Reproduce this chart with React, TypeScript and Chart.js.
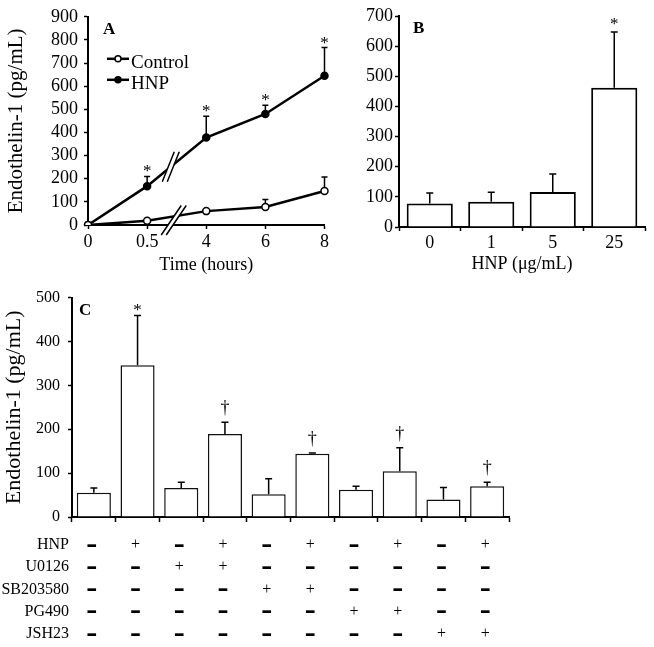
import React, { useEffect, useRef } from 'react';
import { Chart, registerables } from 'chart.js';

Chart.register(...registerables);

const SERIF = "'Liberation Serif', 'Times New Roman', Times, serif";

// ---------- Panel A (time course) ----------
const timeLabels = ['0', '0.5', '4', '6', '8'];
const controlMeans = [0, 18, 60, 78, 147];
const controlErrors = [0, 0, 0, 32, 60];
const controlMarks = ['', '', '', '', ''];
const hnpMeans = [0, 168, 378, 480, 645];
const hnpErrors = [0, 42, 92, 38, 122];
const hnpMarks = ['', '*', '*', '*', '*'];

// ---------- Panel B (dose response) ----------
const doseLabels = ['0', '1', '5', '25'];
const doseMeans = [78, 84, 116, 462];
const doseErrors = [35, 31, 60, 185];
const doseMarks = ['', '', '', '*'];

// ---------- Panel C (inhibitors) ----------
const groupLabels = ['G1', 'G2', 'G3', 'G4', 'G5', 'G6', 'G7', 'G8', 'G9', 'G10'];
const groupMeans = [55, 346, 66, 189, 52, 144, 62, 104, 40, 70];
const groupErrors = [11, 113, 13, 27, 35, 2, 8, 54, 27, 9];
const groupMarks = ['', '*', '', '†', '', '†', '', '†', '', '†'];
const treatmentNames = ['HNP', 'U0126', 'SB203580', 'PG490', 'JSH23'];
const hnpSigns = ['-', '+', '-', '+', '-', '+', '-', '+', '-', '+'];
const u0126Signs = ['-', '-', '+', '+', '-', '-', '-', '-', '-', '-'];
const sb203580Signs = ['-', '-', '-', '-', '+', '+', '-', '-', '-', '-'];
const pg490Signs = ['-', '-', '-', '-', '-', '-', '+', '+', '-', '-'];
const jsh23Signs = ['-', '-', '-', '-', '-', '-', '-', '-', '+', '+'];
const treatmentSigns = [hnpSigns, u0126Signs, sb203580Signs, pg490Signs, jsh23Signs];

const font = (size: number, weight: string = 'normal') => ({ family: SERIF, size, weight });
const axisGrid = (tickLength: number, offset?: boolean) => ({
  display: true,
  drawOnChartArea: false,
  drawTicks: true,
  tickLength,
  tickColor: '#000',
  tickWidth: 1.5,
  color: '#000',
  ...(offset === undefined ? {} : { offset }),
});
const axisBorder = { display: true, color: '#000', width: 2 };

type ErrSpec = {
  dataset: number;
  errors: number[];
  marks: string[];
  cap: number;
  width: number;
  start: number;
  markFont: (m: string) => string;
  markGap: (m: string) => number;
};

function errorBars(id: string, specs: ErrSpec[]) {
  return {
    id,
    afterDatasetsDraw(chart: any) {
      const { ctx } = chart;
      const ys = chart.scales.y;
      specs.forEach((s) => {
        const meta = chart.getDatasetMeta(s.dataset);
        const vals = chart.data.datasets[s.dataset].data as number[];
        meta.data.forEach((el: any, i: number) => {
          const v = vals[i];
          const e = s.errors[i] || 0;
          const x = el.x;
          const y0 = ys.getPixelForValue(v) - s.start;
          const y1 = ys.getPixelForValue(v + e);
          ctx.save();
          ctx.strokeStyle = '#000';
          ctx.lineWidth = s.width;
          if (e > 0) {
            ctx.beginPath();
            ctx.moveTo(x, y0);
            ctx.lineTo(x, y1);
            ctx.moveTo(x - s.cap, y1);
            ctx.lineTo(x + s.cap, y1);
            ctx.stroke();
          }
          const m = s.marks[i];
          if (m) {
            ctx.fillStyle = '#000';
            ctx.font = s.markFont(m);
            ctx.textAlign = 'center';
            ctx.textBaseline = 'alphabetic';
            ctx.fillText(m, x, y1 - s.markGap(m));
          }
          ctx.restore();
        });
      });
    },
  };
}

const panelLetter = (letter: string, dx: number, dy: number) => ({
  id: 'letter' + letter,
  afterDraw(chart: any) {
    const { ctx, chartArea } = chart;
    ctx.save();
    ctx.fillStyle = '#000';
    ctx.font = `bold 17px ${SERIF}`;
    ctx.textAlign = 'left';
    ctx.textBaseline = 'middle';
    ctx.fillText(letter, chartArea.left + dx, chartArea.top + dy);
    ctx.restore();
  },
});

const legendA = {
  id: 'legendA',
  afterDraw(chart: any) {
    const { ctx, chartArea } = chart;
    chart.data.datasets.forEach((ds: any, i: number) => {
      const ty = chartArea.top + 46 + i * 21;
      const ly = ty - 4;
      const x0 = chartArea.left + 19;
      ctx.save();
      ctx.strokeStyle = '#000';
      ctx.lineWidth = 2.5;
      ctx.beginPath();
      ctx.moveTo(x0, ly);
      ctx.lineTo(x0 + 22, ly);
      ctx.stroke();
      ctx.beginPath();
      ctx.arc(x0 + 11, ly, 3, 0, Math.PI * 2);
      ctx.fillStyle = ds.pointBackgroundColor;
      ctx.fill();
      ctx.lineWidth = 1.5;
      ctx.stroke();
      ctx.fillStyle = '#000';
      ctx.font = `19px ${SERIF}`;
      ctx.textAlign = 'left';
      ctx.textBaseline = 'middle';
      ctx.fillText(ds.label, x0 + 24, ty);
      ctx.restore();
    });
  },
};

const breakA = {
  id: 'breakA',
  afterDatasetsDraw(chart: any) {
    const { ctx } = chart;
    const xs = chart.scales.x;
    const ys = chart.scales.y;
    const xa = xs.getPixelForValue(1);
    const xb = xs.getPixelForValue(2);
    const yAxis = ys.getPixelForValue(0);
    const slashPair = (cx: number, top: number, bottom: number, lean: number) => {
      const gap = 2.5;
      ctx.save();
      ctx.fillStyle = '#fff';
      ctx.beginPath();
      ctx.moveTo(cx - gap - lean, bottom);
      ctx.lineTo(cx - gap + lean, top);
      ctx.lineTo(cx + gap + lean, top);
      ctx.lineTo(cx + gap - lean, bottom);
      ctx.closePath();
      ctx.fill();
      ctx.strokeStyle = '#000';
      ctx.lineWidth = 1.5;
      ctx.beginPath();
      ctx.moveTo(cx - gap - lean, bottom);
      ctx.lineTo(cx - gap + lean, top);
      ctx.moveTo(cx + gap - lean, bottom);
      ctx.lineTo(cx + gap + lean, top);
      ctx.stroke();
      ctx.restore();
    };
    // HNP line break
    const t1 = 0.4;
    const hx = xa + t1 * (xb - xa);
    const hy = ys.getPixelForValue(hnpMeans[1] + t1 * (hnpMeans[2] - hnpMeans[1]));
    slashPair(hx, hy - 15, hy + 15, 6);
    // Control line + axis break
    const t2 = 0.45;
    const cx = xa + t2 * (xb - xa);
    const cy = ys.getPixelForValue(controlMeans[1] + t2 * (controlMeans[2] - controlMeans[1]));
    slashPair(cx, cy - 11, yAxis + 10, 10);
  },
};

const tableC = {
  id: 'tableC',
  afterDraw(chart: any) {
    const { ctx, chartArea } = chart;
    const xs = chart.scales.x;
    treatmentNames.forEach((name, r) => {
      const y = chartArea.bottom + 28 + r * 22.25;
      ctx.save();
      ctx.fillStyle = '#000';
      ctx.textBaseline = 'middle';
      ctx.textAlign = 'right';
      ctx.font = `16px ${SERIF}`;
      ctx.fillText(name, chartArea.left - 3, y);
      treatmentSigns[r].forEach((sgn, j) => {
        const x = xs.getPixelForValue(j) - 2;
        ctx.textAlign = 'center';
        if (sgn === '+') {
          ctx.font = `16px ${SERIF}`;
          ctx.fillText('+', x, y);
        } else {
          ctx.font = `bold 22px 'DejaVu Sans'`;
          ctx.fillText('–', x, y + 1);
        }
      });
      ctx.restore();
    });
  },
};

function configA(): any {
  return {
    type: 'line',
    data: {
      labels: timeLabels,
      datasets: [
        {
          label: 'Control',
          data: controlMeans,
          borderColor: '#000',
          borderWidth: 2.5,
          pointRadius: 3.5,
          pointBackgroundColor: '#fff',
          pointBorderColor: '#000',
          pointBorderWidth: 1.5,
          tension: 0,
        },
        {
          label: 'HNP',
          data: hnpMeans,
          borderColor: '#000',
          borderWidth: 2.5,
          pointRadius: 3.5,
          pointBackgroundColor: '#000',
          pointBorderColor: '#000',
          pointBorderWidth: 1.5,
          tension: 0,
        },
      ],
    },
    options: {
      responsive: false,
      animation: false,
      layout: { padding: { top: 15, right: 3, left: 0, bottom: 0 } },
      plugins: { legend: { display: false }, tooltip: { enabled: false } },
      scales: {
        x: {
          type: 'category',
          offset: false,
          grid: axisGrid(4, false),
          border: axisBorder,
          ticks: { color: '#000', font: font(18), padding: 2, maxRotation: 0, autoSkip: false },
          title: { display: true, text: 'Time (hours)', color: '#000', font: font(18), padding: { top: 0, bottom: 4 } },
          afterFit: (s: any) => { s.height = 55; s.paddingLeft = 0; s.paddingRight = 0; },
        },
        y: {
          min: 0,
          max: 900,
          grid: axisGrid(4),
          border: axisBorder,
          ticks: { stepSize: 100, autoSkip: false, color: '#000', font: font(18), padding: 6 },
          title: { display: true, text: 'Endothelin-1 (pg/mL)', color: '#000', font: font(21), padding: { top: 4, bottom: 0 } },
          afterFit: (s: any) => { s.width = 88; },
        },
      },
    },
    plugins: [
      errorBars('errA', [
        { dataset: 0, errors: controlErrors, marks: controlMarks, cap: 3, width: 1.5, start: 3.5, markFont: () => `17px ${SERIF}`, markGap: () => 0 },
        { dataset: 1, errors: hnpErrors, marks: hnpMarks, cap: 3, width: 1.5, start: 0, markFont: () => `17px ${SERIF}`, markGap: () => 0 },
      ]),
      breakA,
      legendA,
      panelLetter('A', 15, 13),
    ],
  };
}

function configB(): any {
  return {
    type: 'bar',
    data: {
      labels: doseLabels,
      datasets: [
        {
          label: 'Endothelin-1',
          data: doseMeans,
          backgroundColor: '#fff',
          borderColor: '#000',
          borderWidth: 2,
          barPercentage: 0.75,
          categoryPercentage: 1,
        },
      ],
    },
    options: {
      responsive: false,
      animation: false,
      layout: { padding: { top: 16, right: 9, left: 0, bottom: 0 } },
      plugins: { legend: { display: false }, tooltip: { enabled: false } },
      scales: {
        x: {
          grid: axisGrid(4, true),
          border: axisBorder,
          ticks: { color: '#000', font: font(18), padding: 1, maxRotation: 0, autoSkip: false },
          title: { display: true, text: 'HNP (μg/mL)', color: '#000', font: font(18), padding: { top: 0, bottom: 5 } },
          afterFit: (s: any) => { s.height = 53; s.paddingLeft = 0; s.paddingRight = 0; },
        },
        y: {
          min: 0,
          max: 700,
          grid: axisGrid(4),
          border: axisBorder,
          ticks: { stepSize: 100, autoSkip: false, color: '#000', font: font(18), padding: 2 },
          afterFit: (s: any) => { s.width = 69; },
        },
      },
    },
    plugins: [
      errorBars('errB', [
        { dataset: 0, errors: doseErrors, marks: doseMarks, cap: 3.5, width: 1.5, start: 0, markFont: () => `17px ${SERIF}`, markGap: () => 2.5 },
      ]),
      panelLetter('B', 14, 13),
    ],
  };
}

function configC(): any {
  return {
    type: 'bar',
    data: {
      labels: groupLabels,
      datasets: [
        {
          label: 'Endothelin-1',
          data: groupMeans,
          backgroundColor: '#fff',
          borderColor: '#111',
          borderWidth: 1.5,
          barPercentage: 0.78,
          categoryPercentage: 1,
        },
      ],
    },
    options: {
      responsive: false,
      animation: false,
      layout: { padding: { top: 12, right: 145, left: 0, bottom: 0 } },
      plugins: { legend: { display: false }, tooltip: { enabled: false } },
      scales: {
        x: {
          grid: axisGrid(5, true),
          border: axisBorder,
          ticks: { display: false },
          afterFit: (s: any) => { s.height = 130; s.paddingLeft = 0; s.paddingRight = 0; },
        },
        y: {
          min: 0,
          max: 500,
          grid: axisGrid(4),
          border: axisBorder,
          ticks: { stepSize: 100, autoSkip: false, color: '#000', font: font(16), padding: 8 },
          title: { display: true, text: 'Endothelin-1 (pg/mL)', color: '#000', font: font(22), padding: { top: 1, bottom: 0 } },
          afterFit: (s: any) => { s.width = 72; },
        },
      },
    },
    plugins: [
      errorBars('errC', [
        {
          dataset: 0,
          errors: groupErrors,
          marks: groupMarks,
          cap: 3.5,
          width: 1.5,
          start: 0,
          markFont: (m: string) => (m === '†' ? `18px ${SERIF}` : `17px ${SERIF}`),
          markGap: (m: string) => (m === '†' ? 9 : 1),
        },
      ]),
      tableC,
      panelLetter('C', 7, 13),
    ],
  };
}

export default function App() {
  const refA = useRef<HTMLCanvasElement>(null);
  const refB = useRef<HTMLCanvasElement>(null);
  const refC = useRef<HTMLCanvasElement>(null);

  useEffect(() => {
    const charts = [
      new Chart(refA.current as HTMLCanvasElement, configA()),
      new Chart(refB.current as HTMLCanvasElement, configB()),
      new Chart(refC.current as HTMLCanvasElement, configC()),
    ];
    return () => charts.forEach((c) => c.destroy());
  }, []);

  return (
    <div style={{ position: 'fixed', left: 0, top: 0, width: 654, height: 647, background: '#fff', overflow: 'hidden' }}>
      <canvas ref={refA} width={330} height={280} style={{ position: 'absolute', left: 0, top: 0, width: 330, height: 280, display: 'block' }} />
      <canvas ref={refB} width={324} height={280} style={{ position: 'absolute', left: 330, top: 0, width: 324, height: 280, display: 'block' }} />
      <canvas ref={refC} width={654} height={367} style={{ position: 'absolute', left: 0, top: 280, width: 654, height: 367, display: 'block' }} />
    </div>
  );
}
